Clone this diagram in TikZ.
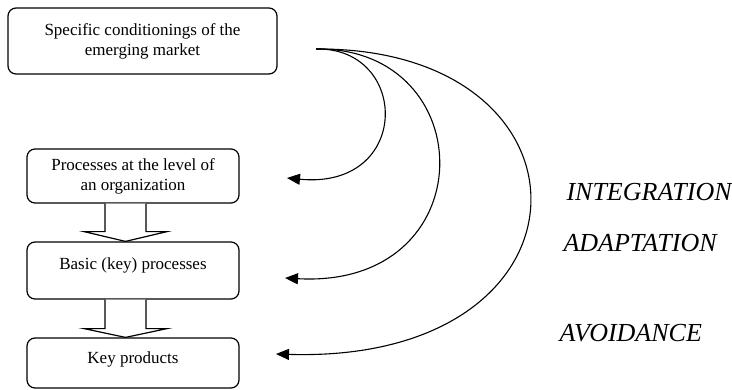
\documentclass[tikz,border=0pt]{standalone}
\usepackage{fontspec}
\setmainfont{Liberation Serif}
\usetikzlibrary{arrows.meta,calc}
\begin{document}
\begin{tikzpicture}[x=1pt,y=-1pt,
  box/.style={draw,line width=1.2pt,rounded corners=8pt,align=center,font=\fontsize{17}{20}\selectfont,inner sep=0pt},
  lbl/.style={anchor=west,font=\fontsize{26}{28}\selectfont\itshape},
  curvearr/.style={line width=1.1pt,-{Triangle[length=13pt,width=11pt]}},
  blockarr/.style={draw,line width=1.2pt,fill=white,line join=miter}]
\useasboundingbox (0,0) rectangle (732,389);
\node[box,minimum width=269pt,minimum height=66pt] (b1) at (142.5,41) {Specific conditionings of the\\emerging market};
\node[box,minimum width=212pt,minimum height=54pt] (b2) at (133,176) {Processes at the level of\\an organization};
\node[box,minimum width=212pt,minimum height=57pt,text depth=14pt] (b3) at (133,270.5) {Basic (key) processes};
\node[box,minimum width=212pt,minimum height=50pt,text depth=10pt] (b4) at (133,363) {Key products};
% block arrows
\draw[blockarr] ($(b2.south)+(-28,0)$) -- ($(b2.south)+(-28,28)$) -- ($(b2.south)+(-49,28)$) -- ($(b3.north)+(-7.5,0)$) -- ($(b2.south)+(34,28)$) -- ($(b2.south)+(13,28)$) -- ($(b2.south)+(13,0)$);
\draw[blockarr] ($(b3.south)+(-28,0)$) -- ($(b3.south)+(-28,29)$) -- ($(b3.south)+(-49,29)$) -- ($(b4.north)+(-7.5,0)$) -- ($(b3.south)+(34,29)$) -- ($(b3.south)+(13,29)$) -- ($(b3.south)+(13,0)$);
% curves
\coordinate (src) at (316,49);
\coordinate (e1) at (287,178);
\coordinate (e2) at (285,278);
\coordinate (e3) at (276,354);
\draw[curvearr] (src) .. controls (410,47) and (412,190) .. (e1);
\draw[curvearr] (src) .. controls (483,47) and (485,289) .. (e2);
\draw[curvearr] (src) .. controls (607,47) and (607,364) .. (e3);
% labels
\node[lbl] (l1) at (563,192) {INTEGRATION};
\node[lbl] (l2) at (560,243) {ADAPTATION};
\node[lbl] (l3) at (556,333) {AVOIDANCE};
\end{tikzpicture}
\end{document}
